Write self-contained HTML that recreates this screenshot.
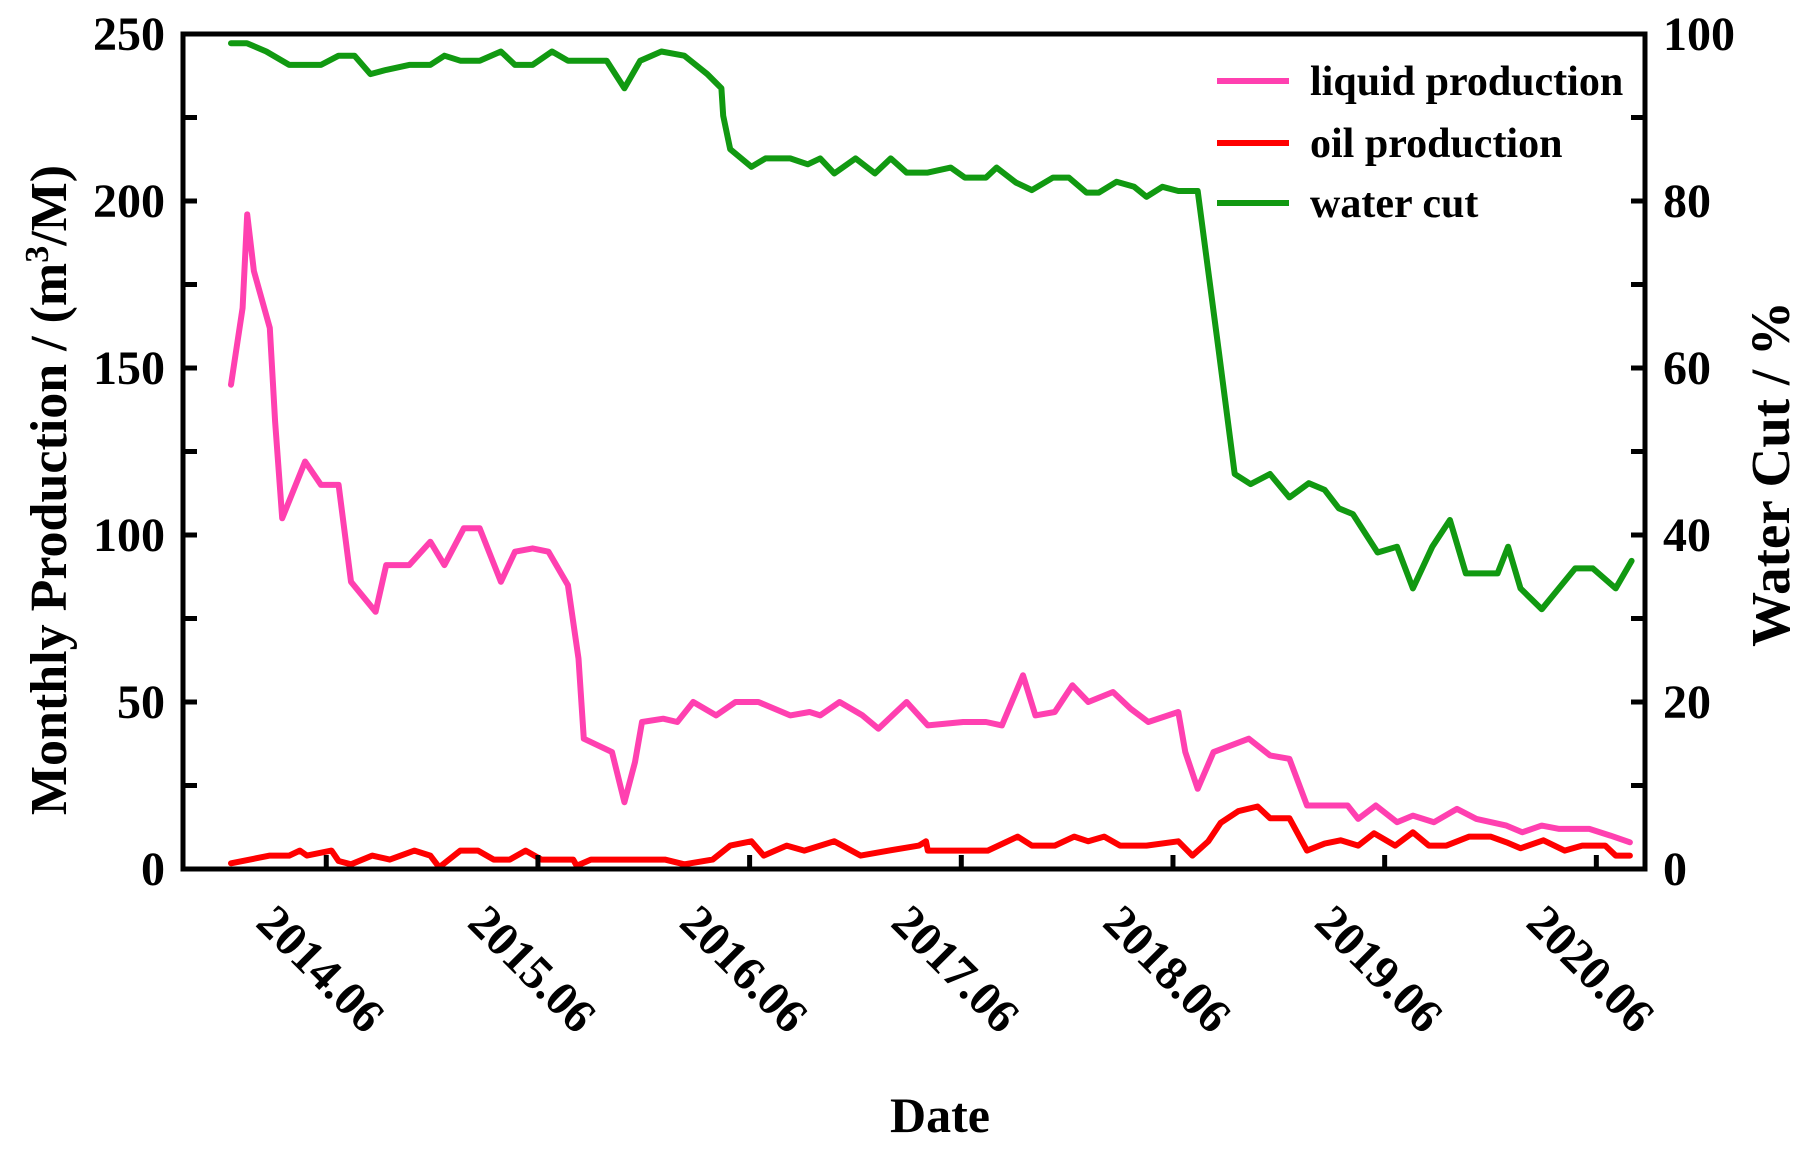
<!DOCTYPE html>
<html><head><meta charset="utf-8"><style>
html,body{margin:0;padding:0;background:#fff}
svg{display:block;font-family:"Liberation Serif",serif;font-weight:bold}
</style></head><body>
<svg id="chart" width="1811" height="1150" viewBox="0 0 1811 1150">
<g id="marks"></g>
</svg>
<script>
const liqMonths=[0,0.66,0.92,1.3,2.2,2.5,2.9,4.2,5.1,6.1,6.8,8.2,8.8,10.1,11.3,12.1,13.2,14.1,15.3,16.1,17.1,18.0,19.1,19.7,20.0,21.6,22.3,22.9,23.3,24.5,25.3,26.2,27.5,28.6,29.9,31.7,32.8,33.4,34.5,35.8,36.7,38.3,39.5,41.5,42.8,43.7,44.9,45.6,46.7,47.7,48.6,50.0,51.0,52.0,53.7,54.1,54.8,55.7,57.7,58.9,60.0,61.0,63.3,63.9,64.9,66.1,67.0,68.2,69.5,70.6,72.3,73.2,74.3,75.3,77.0,78.2,79.3];
const liqValues=[145,168,196,179,162,134,105,122,115,115,86,77,91,91,98,91,102,102,86,95,96,95,85,63,39,35,20,32,44,45,44,50,46,50,50,46,47,46,50,46,42,50,43,44,44,43,58,46,47,55,50,53,48,44,47,35,24,35,39,34,33,19,19,15,19,14,16,14,18,15,13,11,13,12,12,10,8];
const oilMonths=[0,2.2,3.3,3.9,4.3,5.7,6.1,6.8,8.0,9.0,10.4,11.3,11.8,13.0,14.0,14.9,15.8,16.7,17.6,19.4,19.6,20.4,24.6,25.7,27.3,28.3,29.5,30.2,31.5,32.5,34.2,35.7,37.3,39.0,39.4,39.5,42.9,44.6,45.4,46.7,47.8,48.6,49.5,50.4,51.9,53.7,54.5,55.4,56.1,57.1,58.2,58.9,60.0,61.0,62.0,62.9,63.9,64.8,66.0,67.0,67.9,68.9,70.2,71.4,72.3,73.1,74.4,75.6,76.6,77.9,78.5,79.3];
const oilValues=[1.7,4,4,5.5,4,5.5,2.4,1.4,4,2.8,5.5,4,0.5,5.5,5.5,2.8,2.8,5.5,2.8,2.8,1,2.8,2.8,1.4,2.8,7,8.3,4,7,5.5,8.3,4,5.5,7,8.3,5.5,5.5,9.7,7,7,9.7,8.3,9.7,7,7,8.3,4,8.3,13.8,17.3,18.7,15.2,15.2,5.5,7.6,8.6,7,10.7,7,11,7,7,9.7,9.7,8,6.2,8.6,5.5,7,7,4,4];
const wcMonths=[0,0.9,2.0,3.3,5.1,6.1,7.0,7.9,8.8,10.1,11.3,12.1,13.0,14.1,15.3,16.1,17.1,18.2,19.1,21.3,22.3,23.2,24.4,25.7,27.0,27.8,27.9,28.3,29.5,30.3,31.7,32.7,33.4,34.2,35.4,36.5,37.4,38.3,39.5,40.8,41.6,42.8,43.4,44.5,45.4,46.6,47.5,48.5,49.2,50.2,51.2,51.9,52.8,53.7,54.8,56.0,56.9,57.8,58.9,60.0,61.1,62.0,62.8,63.6,65.0,66.1,67.0,68.1,69.1,70.0,71.8,72.4,73.1,74.3,76.2,77.2,78.5,79.4];
const wcValues=[98.9,98.9,97.9,96.3,96.3,97.4,97.4,95.2,95.7,96.3,96.3,97.4,96.8,96.8,97.9,96.3,96.3,97.9,96.8,96.8,93.5,96.8,97.9,97.4,95.2,93.5,90.2,86.2,84.1,85.1,85.1,84.4,85.1,83.3,85.1,83.3,85.1,83.4,83.4,84.0,82.8,82.8,84.0,82.2,81.3,82.8,82.8,81.0,81.0,82.3,81.7,80.5,81.7,81.2,81.2,62,47.3,46.1,47.3,44.5,46.2,45.4,43.2,42.5,37.9,38.6,33.6,38.6,41.8,35.4,35.4,38.6,33.6,31.1,36,36,33.6,36.9];
const xTickMonths=[5.4,17.4,29.4,41.4,53.4,65.4,77.4];
const xTickLabels=["2014.06","2015.06","2016.06","2017.06","2018.06","2019.06","2020.06"];
const yTicks=[0,50,100,150,200,250];
const yMinorTicks=[25,75,125,175,225];
const y2Ticks=[0,20,40,60,80,100];
const y2MinorTicks=[10,30,50,70,90];

const L=183,R=1645,T=34,B=869;
const NS="http://www.w3.org/2000/svg";
const svg=document.getElementById('chart');
const g=document.getElementById('marks');
function xs(m){return 231+m*17.64;}
function ys(v){return B-(v/250)*(B-T);}
function y2s(v){return B-(v/100)*(B-T);}
function mk(tag,attrs,parent){const e=document.createElementNS(NS,tag);for(const k in attrs)e.setAttribute(k,attrs[k]);(parent||svg).appendChild(e);return e;}

function series(ms,vs,sc,color,name){
  const pts=ms.map((m,i)=>xs(m).toFixed(1)+','+sc(vs[i]).toFixed(1)).join(' ');
  const p=mk('polyline',{points:pts,fill:'none',stroke:color,'stroke-width':6,'stroke-linejoin':'round','stroke-linecap':'round'},g);
  
  
}
series(wcMonths,wcValues,y2s,'#119911','water-cut-line');
series(liqMonths,liqValues,ys,'#ff40b0','liquid-production-line');
series(oilMonths,oilValues,ys,'#ff0000','oil-production-line');

const fr=mk('rect',{x:L,y:T,width:R-L,height:B-T,fill:'none',stroke:'#000','stroke-width':5});



yTicks.forEach(v=>{
  const y=ys(v);
  mk('line',{x1:L,x2:L+14,y1:y,y2:y,stroke:'#000','stroke-width':5});
  const t=mk('text',{x:L-18,y:y+16,'text-anchor':'end','font-size':48});
  t.textContent=v;
  
  
});
yMinorTicks.forEach(v=>{const y=ys(v);mk('line',{x1:L,x2:L+14,y1:y,y2:y,stroke:'#000','stroke-width':5});});
y2Ticks.forEach(v=>{
  const y=y2s(v);
  mk('line',{x1:R-14,x2:R,y1:y,y2:y,stroke:'#000','stroke-width':5});
  const t=mk('text',{x:R+18,y:y+16,'text-anchor':'start','font-size':48});
  t.textContent=v;
  
  
});
y2MinorTicks.forEach(v=>{const y=y2s(v);mk('line',{x1:R-14,x2:R,y1:y,y2:y,stroke:'#000','stroke-width':5});});
xTickMonths.forEach((m,i)=>{
  const x=xs(m);
  mk('line',{x1:x,x2:x,y1:B-14,y2:B,stroke:'#000','stroke-width':5});
  const ax=x-72, ay=925;
  const t=mk('text',{x:ax,y:ay,'font-size':48,transform:'rotate(45 '+ax+' '+ay+')'});
  t.textContent=xTickLabels[i];
  
  
});
let t=mk('text',{x:940,y:1132,'text-anchor':'middle','font-size':50});
t.textContent='Date';


t=mk('text',{x:0,y:0,'text-anchor':'middle','font-size':52,transform:'translate(66 490) rotate(-90)'});
t.innerHTML='Monthly Production / (m<tspan dy="-18" font-size="34">3</tspan><tspan dy="18">/M)</tspan>';


t=mk('text',{x:0,y:0,'text-anchor':'middle','font-size':55,transform:'translate(1789 474) rotate(-90)'});
t.textContent='Water Cut / %';


const leg=[['liquid production','#ff40b0',81],['oil production','#ff0000',143],['water cut','#119911',203]];
leg.forEach(d=>{
  const ln=mk('line',{x1:1217,x2:1289,y1:d[2],y2:d[2],stroke:d[1],'stroke-width':6});
  
  
  const tx=mk('text',{x:1310,y:d[2]+14,'font-size':42});
  tx.textContent=d[0];
  
  
});
</script>
</body></html>
